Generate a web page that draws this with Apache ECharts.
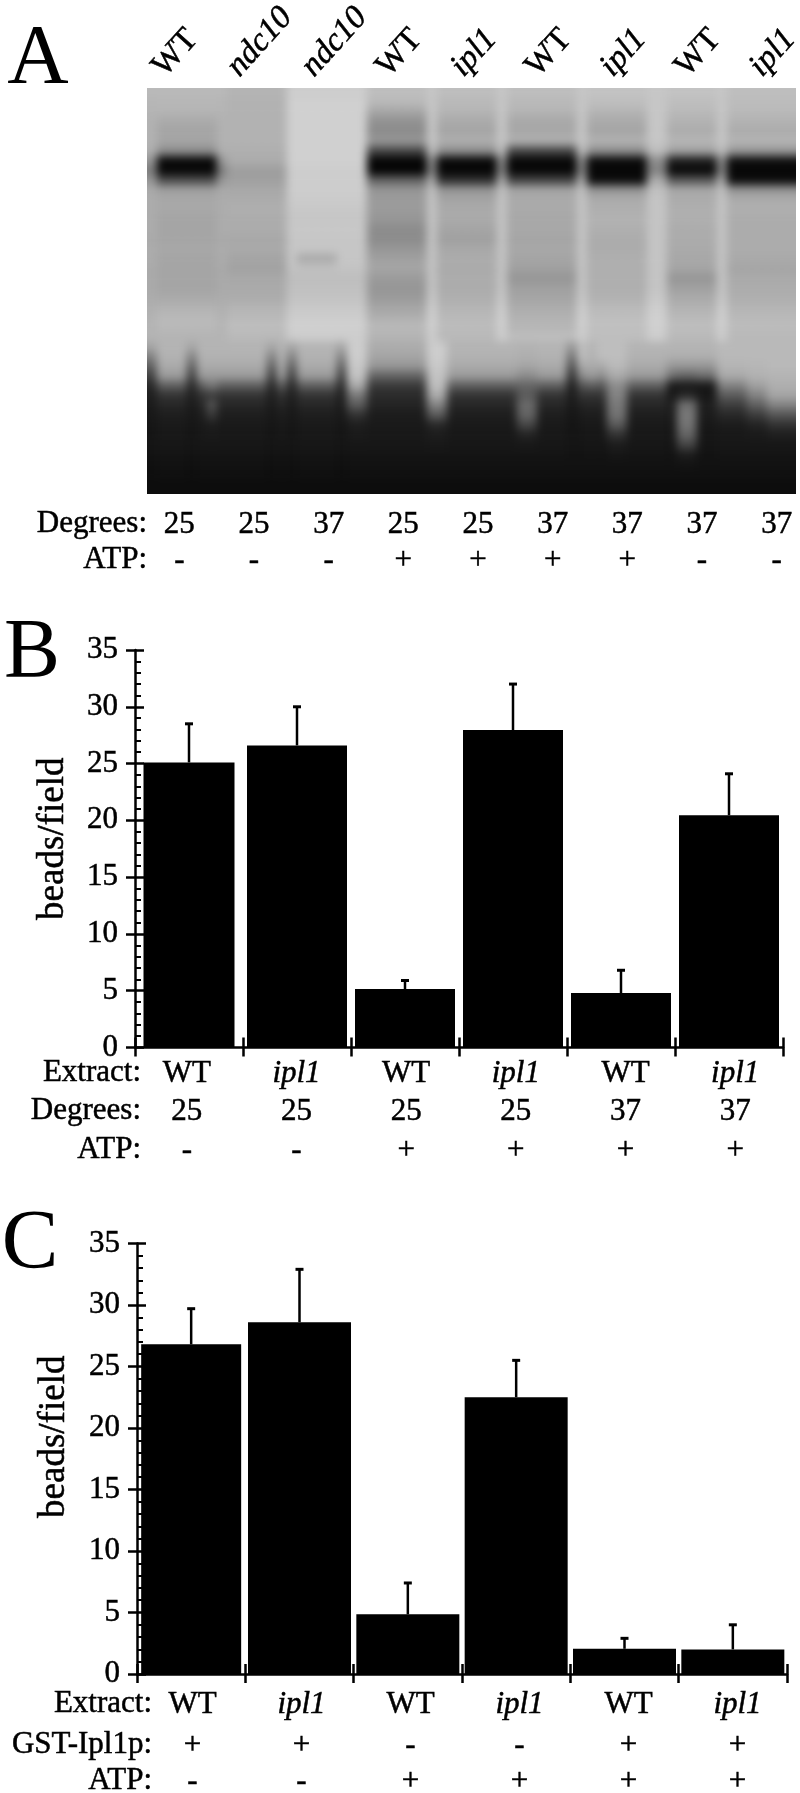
<!DOCTYPE html>
<html>
<head>
<meta charset="utf-8">
<style>
html,body{margin:0;padding:0;background:#fff;width:800px;height:1793px;overflow:hidden}
#gelBox{position:absolute;left:147px;top:88px;width:649px;height:406px;overflow:hidden;background:#888}
#gel{position:absolute;left:-10px;top:-10px;width:670px;height:430px;filter:blur(4px)}
#main{position:absolute;left:0;top:0;width:800px;height:1793px}
</style>
<script src="https://cdn.jsdelivr.net/npm/echarts@6/dist/echarts.min.js"></script>
</head>
<body>
<div id="gelBox"><div id="gel"></div></div>
<div id="main"></div>
<script>
// ---------- Panel A: lane annotation ----------
const lanesA   = ['WT','ndc10','ndc10','WT','ipl1','WT','ipl1','WT','ipl1'];
const degreesA = ['25','25','37','25','25','37','37','37','37'];
const atpA     = ['-','-','-','+','+','+','+','-','-'];

// ---------- Panel A: gel densities read by eye (grey 0-255), top to bottom ----------
const gelUpper = {
  b:[185,182,180,178,178,178,175,150,125,150,170,172,172,172,172,170,172,172,170,170,170,172,175,178,180,180],
  a:[185,183,180,170,165,165,140,10,8,80,160,168,168,165,165,165,168,165,165,165,165,170,178,185,185,180],
  c:[180,178,178,178,178,178,175,172,158,160,168,172,175,172,172,168,170,165,162,168,170,172,180,185,190,185],
  d:[205,208,208,208,208,208,208,208,205,205,205,203,200,198,200,198,198,198,195,190,192,195,200,205,208,205],
  m:[205,208,208,208,208,208,208,208,205,205,205,203,200,198,200,198,198,170,192,190,192,195,200,205,208,205],
  e:[190,185,165,145,140,150,70,6,6,100,150,155,155,150,140,140,150,160,165,155,150,155,165,175,185,180],
  f:[198,198,198,198,198,198,188,140,130,170,192,196,196,196,196,196,196,196,196,196,196,200,205,208,208,205],
  g:[190,185,180,170,165,175,140,10,6,50,150,165,170,170,165,160,168,172,170,172,172,175,180,185,188,185],
  h:[190,185,180,168,168,175,70,8,8,70,165,170,170,168,168,165,168,165,160,150,160,165,172,178,182,190],
  i:[195,190,180,170,165,178,140,12,6,15,150,172,175,178,175,172,172,175,175,175,175,178,185,190,192,190],
  j:[195,190,185,178,172,182,160,30,8,90,168,172,175,175,172,172,170,168,165,150,160,170,178,185,190,185],
  k:[190,188,185,178,172,180,150,15,6,15,150,172,175,172,172,172,172,170,165,170,172,175,180,185,188,185]
};
const gelLower = {
  S:[165,130,95,65,40,30,26,24,22,20,20,18,16,14,12],
  L:[180,178,170,155,95,50,38,30,26,24,22,20,18,16,12],
  N:[180,178,170,155,120,60,85,60,30,26,22,20,18,16,12],
  M:[205,205,200,195,170,120,90,50,30,26,22,20,18,16,12],
  T:[172,165,150,100,58,42,35,28,26,24,22,20,18,16,12],
  G:[205,205,200,195,190,170,130,90,40,28,24,20,18,16,12],
  W:[178,175,165,140,100,90,105,100,70,35,24,20,18,16,12],
  D:[150,115,80,50,30,26,24,22,20,20,20,18,18,16,12],
  E:[190,190,170,140,85,50,35,28,24,22,20,18,18,16,12],
  X:[190,190,185,170,140,130,120,115,90,50,28,22,18,16,12],
  B:[180,175,150,110,25,22,30,28,24,22,20,18,18,16,12],
  Y:[180,175,150,100,25,40,110,120,115,100,70,30,20,16,12],
  R:[185,185,180,170,130,90,60,40,28,24,22,20,18,16,12],
  Q:[185,185,182,178,160,130,95,60,35,26,22,20,18,16,12],
  Z:[185,185,185,180,175,165,130,85,50,30,22,20,18,16,12]
};
const gelColumnsUpper = 'baaaaaabccccccdmmmmdddeeeeeefggggggfhhhhhhhfiiiiiiffjjjjjfkkkkkkk';
const gelColumnsLower = 'SLLLSLNLLLLLSLSLLLLSMMTTTTTTGGLLLLLLLWWLLLDELEXXLLLLBYYBBRRRQQZZZ';

// ---------- Panel B ----------
const extractB = ['WT','ipl1','WT','ipl1','WT','ipl1'];
const degreesB = ['25','25','25','25','37','37'];
const atpB     = ['-','-','+','+','+','+'];
const beadsB   = [25.1,26.6,5.15,27.95,4.8,20.45];
const errTopB  = [28.5,30,5.9,32,6.8,24.1];

// ---------- Panel C ----------
const extractC = ['WT','ipl1','WT','ipl1','WT','ipl1'];
const gstC     = ['+','+','-','-','+','+'];
const atpC     = ['-','-','+','+','+','+'];
const beadsC   = [26.8,28.6,4.85,22.5,2.05,2.0];
const errTopC  = [29.7,32.9,7.4,25.5,2.9,4.0];

const yTicks = ['0','5','10','15','20','25','30','35'];
const FONT = '"Liberation Serif","Times New Roman",serif';
const ITALIC = new Set(['ipl1','ndc10']);
const SIZE = 31;

// ----- gel -----
(function(){
  const nCols = gelColumnsUpper.length;
  const profile = c => gelUpper[gelColumnsUpper[c]].concat(gelLower[gelColumnsLower[c]]);
  const cells = [];
  for (let c = -1; c <= nCols; c++) {
    const p = profile(Math.max(0, Math.min(nCols - 1, c)));
    const padded = [p[0]].concat(p, [p[p.length-1], p[p.length-1]]);
    padded.forEach((v, r) => cells.push([c + 1, r, v]));
  }
  const nRows = gelUpper.a.length + gelLower.L.length + 3;
  const chart = echarts.init(document.getElementById('gel'));
  chart.setOption({
    animation:false,
    grid:{left:0,right:0,top:0,bottom:0,outerBoundsMode:'none'},
    xAxis:{type:'category',show:false,data:Array.from({length:nCols+2},(_, i)=>i)},
    yAxis:{type:'category',show:false,inverse:true,data:Array.from({length:nRows},(_, i)=>i)},
    visualMap:{show:false,min:0,max:255,dimension:2,inRange:{color:['#000','#fff']}},
    series:[{type:'heatmap',data:cells,progressive:0,itemStyle:{borderWidth:0}}]
  });
})();

// ----- main chart -----
const grids = [], xAxes = [], yAxes = [], series = [];
const labelFmt = s => ITALIC.has(s) ? '{i|' + s + '}' : s;
const weight = {textBorderColor:'#000',textBorderWidth:0.5};
const textStyle = Object.assign({fontFamily:FONT,fontSize:SIZE,color:'#000'},weight);
const italicRich = size => ({i:Object.assign({fontFamily:FONT,fontStyle:'italic',fontSize:size,color:'#000'},weight)});

function addTextRows(left, width, top, rows){
  const g = grids.push({left,width,top,height:1,outerBoundsMode:'none'}) - 1;
  yAxes.push({gridIndex:g,show:false,type:'value'});
  rows.forEach(([data, offset])=>{
    xAxes.push({gridIndex:g,type:'category',position:'bottom',offset,data,
      axisLine:{show:false},axisTick:{show:false},
      axisLabel:Object.assign({interval:0,margin:0,verticalAlign:'middle',hideOverlap:false,
        formatter:labelFmt,rich:italicRich(SIZE)},textStyle)});
  });
}

function addBarPanel(cfg){
  const g = grids.push({left:cfg.left,width:cfg.width,top:cfg.top,height:cfg.height,outerBoundsMode:'none'}) - 1;
  const common = {gridIndex:g,type:'category',position:'bottom',data:cfg.categories,
    axisLabel:{show:false}};
  const xOuter = xAxes.push(Object.assign({},common,{
    axisLine:{show:true,lineStyle:{color:'#000',width:2.5}},
    axisTick:{show:true,length:9,lineStyle:{color:'#000',width:2.5}}})) - 1;
  const xInner = xAxes.push(Object.assign({},common,{
    axisLine:{show:false},
    axisTick:{show:true,inside:true,length:10,lineStyle:{color:'#000',width:2.5}}})) - 1;
  const yOuter = yAxes.push({gridIndex:g,type:'value',position:'left',min:0,max:35,interval:5,
    name:'beads/field',nameLocation:'middle',nameGap:cfg.nameGap,nameRotate:90,nameMoveOverlap:false,
    nameTextStyle:Object.assign({fontFamily:FONT,fontSize:37,color:'#000',padding:cfg.namePadding},weight),
    splitLine:{show:false},
    axisLine:{show:true,lineStyle:{color:'#000',width:2.5}},
    axisTick:{show:true,length:9,lineStyle:{color:'#000',width:2.5}},
    axisLabel:Object.assign({margin:17,formatter:v=>yTicks[v/5]},textStyle)}) - 1;
  yAxes.push({gridIndex:g,type:'value',position:'left',min:0,max:35,interval:5,
    splitLine:{show:false},axisLabel:{show:false},axisLine:{show:false},
    axisTick:{show:true,inside:true,length:9,lineStyle:{color:'#000',width:2.5}},
    minorTick:{show:true,splitNumber:5,length:6,lineStyle:{color:'#000',width:2}}});
  series.push({type:'bar',xAxisIndex:xInner,yAxisIndex:yOuter,barWidth:cfg.firstBarWidth,
    data:cfg.values.map((v,i)=>i===0?v:null),itemStyle:{color:'#000'}});
  series.push({type:'bar',xAxisIndex:xOuter,yAxisIndex:yOuter,barWidth:cfg.barWidth,
    data:cfg.values.map((v,i)=>i===0?null:v),itemStyle:{color:'#000'}});
  series.push({type:'custom',xAxisIndex:xOuter,yAxisIndex:yOuter,clip:false,z:3,
    encode:{x:0,y:[1,2]},
    data:cfg.values.map((v,i)=>[i,v,cfg.errTop[i]]),
    renderItem:(params,api)=>{
      const base = api.coord([api.value(0),api.value(1)]);
      const top = api.coord([api.value(0),api.value(2)]);
      return {type:'group',children:[
        {type:'line',shape:{x1:top[0],y1:base[1],x2:top[0],y2:top[1]},style:{stroke:'#000',lineWidth:2.5,fill:null}},
        {type:'line',shape:{x1:top[0]-4,y1:top[1],x2:top[0]+4,y2:top[1]},style:{stroke:'#000',lineWidth:3,fill:null}}
      ]};
    }});
}

addBarPanel({left:135,width:648,top:650,height:397.5,categories:extractB,values:beadsB,errTop:errTopB,
  barWidth:100,firstBarWidth:91,nameGap:63,namePadding:[0,0,0,20]});
addBarPanel({left:137,width:650,top:1243.5,height:430.5,categories:extractC,values:beadsC,errTop:errTopC,
  barWidth:103,firstBarWidth:100,nameGap:64,namePadding:[0,0,0,44]});

addTextRows(132,658,1047,[[extractB,26],[degreesB,64],[atpB,103]]);
addTextRows(138,654,1674,[[extractC,30],[gstC,71],[atpC,107]]);
addTextRows(142,672,494,[[degreesA,30],[atpA,66]]);

// rotated lane labels above the gel
const gLane = grids.push({left:121,width:672,top:72,height:1,outerBoundsMode:'none'}) - 1;
yAxes.push({gridIndex:gLane,show:false,type:'value'});
xAxes.push({gridIndex:gLane,type:'category',position:'top',data:lanesA,
  axisLine:{show:false},axisTick:{show:false},
  axisLabel:Object.assign({interval:0,margin:0,rotate:48,align:'left',verticalAlign:'middle',hideOverlap:false,
    formatter:labelFmt,rich:italicRich(33)},textStyle,{fontSize:33})});

function gText(text,x,y,size,align){
  return {type:'text',silent:true,style:{text,x,y,fill:'#000',textAlign:align||'right',textVerticalAlign:'middle',
    font:size+'px '+FONT,stroke:'#000',lineWidth:size>50?0:0.5}};
}
const rowTitles = [
  gText('A',38,61,85,'center'), gText('B',32,655,84,'center'), gText('C',30,1246,85,'center'),
  gText('Degrees:',147,524,SIZE), gText('ATP:',147,560,SIZE),
  gText('Extract:',141,1073,SIZE), gText('Degrees:',141,1111,SIZE), gText('ATP:',141,1150,SIZE),
  gText('Extract:',152,1704,SIZE), gText('GST-Ipl1p:',152,1745,SIZE), gText('ATP:',152,1781,SIZE)
];

const chart = echarts.init(document.getElementById('main'));
chart.setOption({
  animation:false,
  backgroundColor:'transparent',
  grid:grids,xAxis:xAxes,yAxis:yAxes,series,
  graphic:rowTitles
});
</script>
</body>
</html>
